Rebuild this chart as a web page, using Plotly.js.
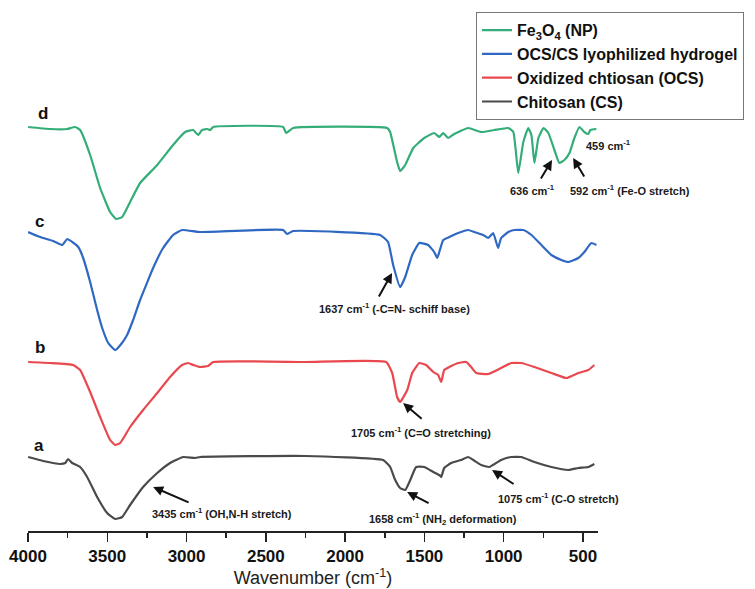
<!DOCTYPE html>
<html>
<head>
<meta charset="utf-8">
<script src="https://cdn.plot.ly/plotly-3.0.1.min.js"></script>
<style>html,body{margin:0;padding:0;background:#fff;}#chart{width:755px;height:589px;}</style>
</head>
<body>
<div id="chart"></div>
<script>
// Wavenumbers (cm-1) and stacked transmittance values (a.u.)
const wnD = [3999,3860,3753,3702,3671,3608,3545,3482,3444,3406,3356,3293,3185,3085,3009,2958,2927,2902,2870,2851,2832,2391,2372,2328,1735,1716,1672,1653,1621,1570,1501,1438,1406,1381,1350,1312,1224,1142,1060,971,939,908,876,845,825,806,781,749,718,680,649,617,585,554,522,491,466,453,415];
const tD  = [404,402,402,404,401,376,343,319,312,314,329,348,366,386,399,401,396,401,402,401,404,404,398,403,403,399,369,360,366,383,393,398,394,398,393,397,403,399,401,403,399,358,389,403,396,368,393,403,398,381,368,371,378,393,404,399,397,401,402];

const wnC = [3999,3923,3841,3784,3753,3721,3683,3652,3608,3564,3532,3494,3450,3412,3375,3337,3293,3242,3211,3148,3085,3028,2914,2391,2366,2328,1779,1729,1697,1653,1621,1577,1532,1476,1438,1419,1406,1381,1343,1287,1224,1186,1129,1097,1066,1035,1016,971,933,876,825,762,699,636,592,529,491,447,415];
const tC  = [299,294,290,286,292,289,284,273,249,221,203,188,181,187,196,211,231,251,263,283,296,301,299,301,297,300,296,289,266,244,254,276,288,286,279,273,279,291,294,298,301,299,296,293,298,283,293,299,301,301,296,286,276,271,269,273,279,288,286];

const wnB = [3999,3860,3715,3671,3608,3545,3482,3450,3419,3356,3274,3185,3104,3028,2990,2958,2914,2864,2832,2252,1741,1703,1672,1653,1608,1577,1532,1489,1444,1413,1394,1375,1343,1287,1236,1205,1173,1097,1016,952,889,806,699,604,529,466,428];
const tB  = [169,168,166,161,139,114,91,86,88,104,121,138,154,166,168,166,164,165,169,169,169,158,134,129,141,158,168,166,159,156,149,161,164,168,169,164,158,157,163,168,168,164,158,153,158,161,166];

const wnA = [3999,3904,3797,3765,3747,3721,3671,3627,3564,3501,3450,3406,3356,3274,3185,3104,3021,2946,2914,2252,1760,1716,1684,1653,1621,1589,1552,1501,1444,1406,1394,1375,1331,1268,1224,1192,1142,1091,1016,952,889,806,699,592,529,466,428];
const tA  = [74,70,67,68,72,68,64,54,34,18,12,14,26,44,58,68,74,73,74,75,71,64,51,43,41,51,64,64,59,56,54,63,68,71,74,71,66,64,71,74,74,69,64,61,63,64,67];

const seriesNames = ['Fe<sub>3</sub>O<sub>4</sub> (NP)', 'OCS/CS lyophilized hydrogel', 'Oxidized chtiosan (OCS)', 'Chitosan (CS)'];
const tickVals = [4000,3500,3000,2500,2000,1500,1000,500];

const colors = ['#34ad78', '#2f68c2', '#e8484e', '#4a4a4a'];
const xs = [wnD, wnC, wnB, wnA];
const ys = [tD, tC, tB, tA];

const traces = xs.map((x, i) => ({
  x: x, y: ys[i], name: seriesNames[i], type: 'scatter', mode: 'lines',
  line: {color: colors[i], width: 2.2, shape: 'spline', smoothing: 0.4}
}));

const FONT = 'Liberation Sans, Arial, sans-serif';
const lblFont = {family: FONT, size: 11, color: '#1a1a1a', weight: 'bold'};
const cm = ' cm<sup>-1</sup>';

function txt(x, y, t, f) {
  return {x: x, y: y, xref: 'x', yref: 'y', text: t, showarrow: false, xanchor: 'center', yanchor: 'middle', font: f || lblFont};
}
function ptxt(x, y, t) {
  return {x: x, y: y, xref: 'paper', yref: 'paper', text: t, showarrow: false, xanchor: 'center', yanchor: 'middle', font: lblFont};
}
function arr(x, y, ax, ay) {
  return {x: x, y: y, xref: 'x', yref: 'y', text: '', showarrow: true, ax: ax, ay: ay,
          arrowhead: 2, arrowsize: 1, arrowwidth: 2, arrowcolor: '#111', standoff: 0, startstandoff: 0};
}
const letterFont = {family: FONT, size: 17, color: '#111', weight: 'bold'};

const annotations = [
  txt(3904, 418, 'd', letterFont),
  txt(3929, 310, 'c', letterFont),
  txt(3923, 184, 'b', letterFont),
  txt(3929, 86, 'a', letterFont),
  txt(1691, 223, '1637' + cm + ' (-C=N- schiff base)'),
  arr(1704, 258, -14, 25),
  txt(1521, 99, '1705' + cm + ' (C=O stretching)'),
  arr(1634, 128, 20, 17),
  txt(2776, 18, '3435' + cm + ' (OH,N-H stretch)'),
  arr(3211, 44, 37, 16),
  txt(1382, 12, '1658' + cm + ' (NH<sub>2</sub> deformation)'),
  arr(1609, 39, 23, 12),
  txt(657, 33, '1075' + cm + ' (C-O stretch)'),
  arr(1073, 61, 23, 15),
  txt(821, 341, '636' + cm),
  arr(695, 371, -12, 20),
  ptxt(1.056, 0.642, '592' + cm + ' (Fe-O stretch)'),
  arr(562, 373, 12, 20),
  ptxt(1.019, 0.727, '459' + cm)
];

const layout = {
  width: 755, height: 589,
  margin: {l: 28, r: 157, t: 0, b: 58, autoexpand: false},
  paper_bgcolor: '#fff', plot_bgcolor: '#fff',
  font: {family: FONT, color: '#111'},
  showlegend: true,
  legend: {
    x: 0.786, y: 0.977, xanchor: 'left', yanchor: 'top',
    bgcolor: '#fff', bordercolor: '#777', borderwidth: 1,
    font: {family: FONT, size: 16, color: '#111', weight: 'bold'},
    itemwidth: 30, traceorder: 'normal'
  },
  xaxis: {
    range: [4000, 405], tickmode: 'array', tickvals: tickVals,
    showgrid: false, zeroline: false, showline: true, linecolor: '#222', linewidth: 1.5,
    ticks: 'outside', ticklen: 9, tickwidth: 1.5, tickcolor: '#222',
    minor: {ticks: 'outside', ticklen: 5, tickwidth: 1.5, tickcolor: '#222', dtick: 250, tick0: 0, showgrid: false},
    tickfont: {family: FONT, size: 17, color: '#111', weight: 'bold'},
    title: {text: 'Wavenumber (cm<sup>-1</sup>)', font: {family: FONT, size: 18, color: '#222'}, standoff: 6}
  },
  yaxis: {range: [0, 531], visible: false, fixedrange: true},
  annotations: annotations
};

Plotly.newPlot('chart', traces, layout, {displayModeBar: false, staticPlot: true});
</script>
</body>
</html>
